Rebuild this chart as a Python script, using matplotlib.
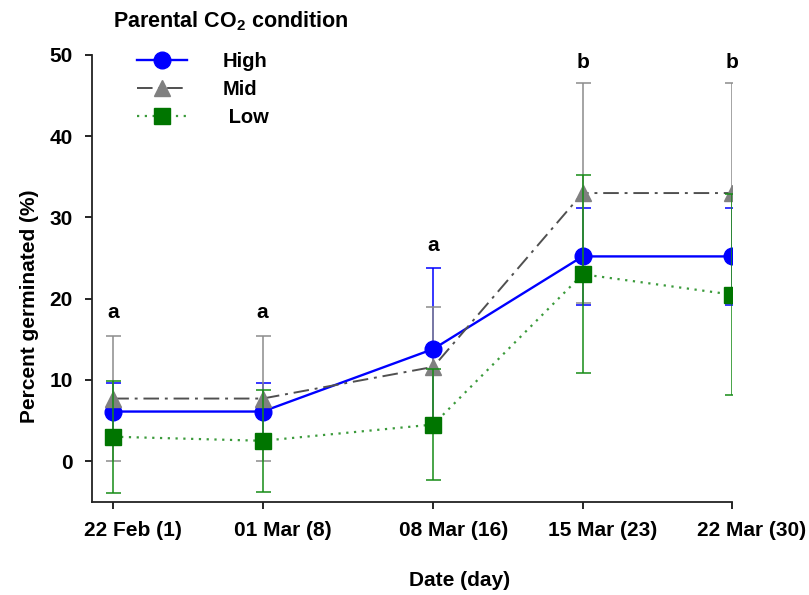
import matplotlib
matplotlib.use('Agg')
import matplotlib.pyplot as plt
from matplotlib.transforms import ScaledTranslation

plt.rcParams['font.family'] = ['Liberation Sans', 'DejaVu Sans']
plt.rcParams['font.weight'] = 'bold'
plt.rcParams['mathtext.fontset'] = 'custom'
plt.rcParams['mathtext.rm'] = 'Liberation Sans:bold'
plt.rcParams['mathtext.bf'] = 'Liberation Sans:bold'

days = [1, 8, 16, 23, 30]
date_labels = ['22 Feb (1)', '01 Mar (8)', '08 Mar (16)', '15 Mar (23)', '22 Mar (30)']

high_mean = [6.1, 6.1, 13.8, 25.2, 25.2]
high_err = [3.5, 3.5, 10.0, 6.0, 6.0]
mid_mean = [7.7, 7.7, 11.6, 33.0, 33.0]
mid_err = [7.7, 7.7, 7.4, 13.5, 13.5]
low_mean = [3.0, 2.5, 4.5, 23.0, 20.5]
low_err = [6.9, 6.3, 6.8, 12.2, 12.4]

letters = ['a', 'a', 'a', 'b', 'b']
letter_y = [17.6, 17.6, 25.9, 48.4, 48.4]

fig = plt.figure(figsize=(8.09, 5.95), dpi=100)
ax = fig.add_axes([0.1137, 0.1568, 0.7911, 0.7508])

eb = dict(fmt='none', elinewidth=1.1, capsize=5.4, capthick=1.1)

# High
ax.errorbar(days, high_mean, yerr=high_err, ecolor='#0000ff', zorder=2, **eb)
h_line, = ax.plot(days, high_mean, color='#0000ff', lw=1.7, marker='o', ms=12,
                  mfc='#0000ff', mec='#0000ff', zorder=3, label='High')

# Mid
ax.errorbar(days, mid_mean, yerr=mid_err, ecolor='#8c8c8c', zorder=2, **eb)
m_line, = ax.plot(days, mid_mean, color='#505050', lw=1.4, ls=(0, (8, 3, 1.5, 3)),
                  marker='^', ms=12, mfc='#808080', mec='#808080', zorder=3, label='Mid')

# Low
ax.errorbar(days, low_mean, yerr=low_err, ecolor='#168c16', zorder=4, **eb)
l_line, = ax.plot(days, low_mean, color='#3a9a3a', lw=1.6, ls=(0, (1, 2.5)),
                  marker='s', ms=11, mfc='#007500', mec='#007500', zorder=5, label='Low')

for x, s, y in zip(days, letters, letter_y):
    ax.text(x, y, s, ha='center', va='baseline', fontsize=15, fontweight='bold')

ax.set_xlim(0, 30)
ax.set_ylim(-5, 50)
ax.set_xticks(days)
ax.set_xticklabels(date_labels)
ax.set_yticks([0, 10, 20, 30, 40, 50])
ax.tick_params(axis='both', direction='out', length=5, width=1.2, labelsize=15)
ax.tick_params(axis='x', pad=9)
ax.tick_params(axis='y', pad=9)
for lab in ax.get_xticklabels():
    lab.set_transform(lab.get_transform() + ScaledTranslation(0.2, 0, fig.dpi_scale_trans))

for side in ['top', 'right']:
    ax.spines[side].set_visible(False)
for side in ['left', 'bottom']:
    ax.spines[side].set_linewidth(1.3)
    ax.spines[side].set_color('#222222')

fig.text(460 / 809, 1 - 580 / 595, 'Date (day)', ha='center', va='center',
         fontsize=15, fontweight='bold')
fig.text(30 / 809, 1 - 306 / 595, 'Percent germinated (%)', ha='center', va='center',
         rotation=90, fontsize=15, fontweight='bold')

fig.text(113 / 809, 1 - 21 / 595, r'Parental CO$_2$ condition', ha='left', va='center',
         fontsize=15.5, fontweight='bold')
fig.legend(handles=[h_line, m_line, l_line], labels=['High', 'Mid', ' Low'],
           loc='upper left', bbox_to_anchor=(133 / 809, 1 - 48 / 595),
           frameon=False, fontsize=14.5, handlelength=2.5, handletextpad=1.75,
           labelspacing=0.45, borderpad=0.2, borderaxespad=0)

fig.savefig('out.png', dpi=100)
